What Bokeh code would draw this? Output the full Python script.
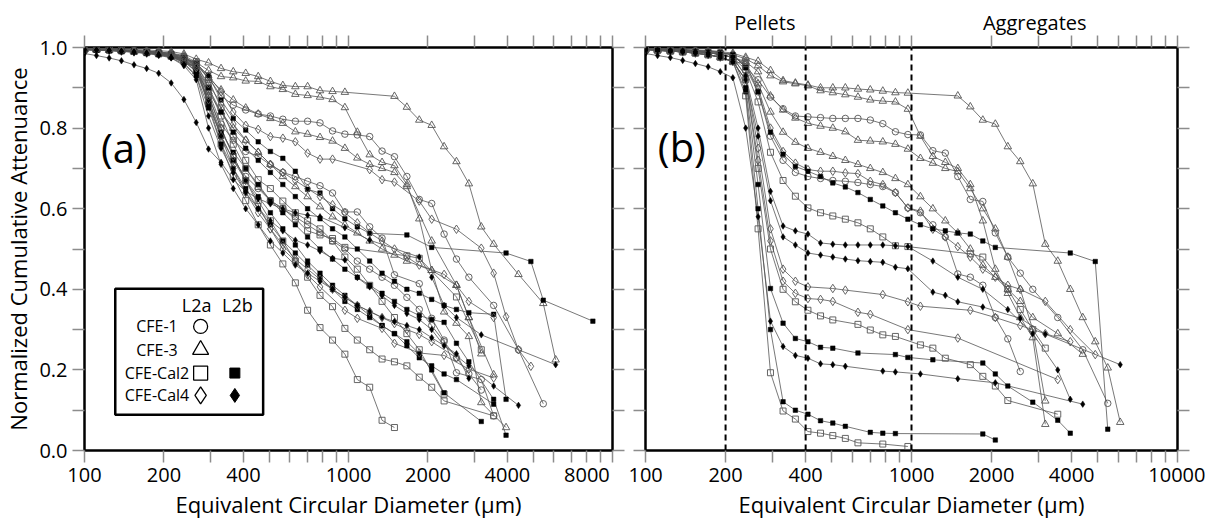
from bokeh.plotting import figure
from bokeh.layouts import row
from bokeh.models import FixedTicker, CustomJSTickFormatter, LogAxis, LinearAxis, Range1d, Label
from bokeh.embed import file_html
from bokeh.resources import INLINE
from bokeh.core.properties import value

FONT = "Open Sans"

# size-bin centres (um) shared by all curves
GRID = [100, 111, 124, 138, 154, 172, 191, 213, 238, 265, 295, 329, 366, 408, 455,
        506, 564, 629, 700, 780, 870, 969, 1080, 1203, 1340, 1493, 1664, 1854, 2066,
        2302, 2564, 2857, 3184, 3547, 3952, 4404, 4907, 5467, 6091, 6787, 7562, 8426]


def r(a, b):
    return list(range(a, b + 1))


# ---------------- panel (a) ----------------
A_T1_K = r(0, 21) + r(25, 33) + [35, 37, 38]
A_T1_V = [.998, .998, .997, .996, .995, .994, .992, .99, .984, .971, .962, .948, .94, .936, .928, .916, .906, .903, .903, .893, .891, .889, .879, .852, .82, .807, .754, .717, .662, .555, .512, .437, .365, .225]
A_T2_K = r(0, 32) + [34]
A_T2_V = [.997, .996, .995, .994, .993, .991, .989, .986, .98, .963, .943, .928, .925, .917, .916, .903, .896, .884, .881, .877, .871, .851, .79, .734, .715, .707, .66, .575, .447, .344, .316, .283, .119, .057]
A_T3_K = r(0, 26) + [28, 30, 31, 33]
A_T3_V = [.996, .995, .994, .993, .991, .989, .987, .983, .976, .955, .925, .895, .87, .85, .835, .824, .812, .791, .785, .777, .768, .75, .726, .71, .70, .69, .655, .52, .41, .33, .188]
A_T4_K = r(0, 26) + [28, 30, 31, 32]
A_T4_V = [.995, .994, .993, .992, .99, .988, .985, .98, .97, .94, .89, .84, .80, .77, .74, .71, .68, .655, .63, .605, .58, .56, .54, .52, .50, .485, .47, .447, .41, .33, .24]
A_C1_K = r(0, 30) + [31, 33, 35, 37]
A_C1_V = [.997, .996, .995, .994, .993, .991, .989, .985, .978, .958, .925, .88, .857, .845, .835, .83, .822, .817, .817, .813, .793, .785, .783, .779, .743, .729, .68, .623, .613, .537, .475, .43, .36, .25, .116]
A_C2_K = r(0, 32)
A_C2_V = [.995, .994, .993, .991, .99, .988, .985, .98, .966, .95, .86, .78, .72, .68, .65, .62, .60, .58, .56, .54, .52, .50, .47, .45, .43, .41, .38, .35, .31, .27, .23, .19, .15]
A_C3_K = r(0, 25) + [27, 28, 29, 30, 32, 33]
A_C3_V = [.996, .995, .994, .993, .991, .989, .986, .982, .972, .955, .89, .81, .77, .742, .73, .709, .69, .68, .668, .657, .639, .592, .592, .555, .527, .436, .414, .328, .274, .193, .176, .086]
A_S1_K = r(0, 25)
A_S1_V = [.996, .995, .994, .992, .99, .987, .984, .978, .965, .95, .86, .76, .68, .62, .56, .51, .463, .416, .348, .305, .274, .239, .176, .157, .075, .057]
A_S2_K = r(0, 29) + [33]
A_S2_V = [.996, .995, .994, .992, .99, .988, .985, .98, .968, .955, .88, .80, .73, .67, .62, .57, .52, .47, .43, .385, .357, .303, .274, .25, .227, .22, .21, .182, .157, .123, .086]
A_S3_K = r(0, 21) + [26, 27, 30, 32]
A_S3_V = [.997, .996, .995, .993, .991, .989, .986, .982, .972, .96, .90, .83, .76, .70, .655, .62, .60, .575, .545, .535, .526, .504, .483, .477, .381, .25]
A_S4_K = r(0, 27) + [29]
A_S4_V = [.996, .995, .994, .993, .991, .989, .986, .981, .97, .965, .92, .85, .78, .72, .672, .65, .619, .59, .57, .55, .52, .48, .45, .41, .37, .33, .29, .25, .14]
A_F1_K = r(0, 23) + [26, 28, 34, 36, 37, 41]
A_F1_V = [.997, .996, .995, .994, .992, .99, .988, .984, .975, .96, .93, .87, .824, .795, .766, .742, .725, .693, .648, .639, .60, .575, .555, .539, .535, .504, .49, .469, .373, .321]
A_F2_K = r(0, 31) + [33, 34]
A_F2_V = [.996, .995, .994, .993, .991, .989, .986, .981, .97, .95, .90, .84, .79, .75, .72, .69, .66, .63, .60, .575, .55, .53, .50, .47, .44, .42, .40, .39, .375, .36, .35, .342, .338, .127]
A_F3_K = r(0, 31) + [33, 34]
A_F3_V = [.995, .994, .993, .992, .99, .987, .984, .978, .965, .94, .87, .79, .74, .70, .66, .62, .59, .56, .53, .50, .475, .45, .43, .41, .39, .37, .35, .335, .325, .318, .266, .22, .127, .038]
A_F4_K = r(0, 29) + [32]
A_F4_V = [.995, .994, .993, .991, .989, .986, .983, .977, .962, .93, .85, .76, .70, .65, .60, .56, .52, .49, .46, .43, .40, .37, .35, .33, .31, .29, .27, .24, .20, .143, .072]
A_F5_K = r(0, 30) + [33]
A_F5_V = [.996, .995, .994, .992, .99, .987, .984, .979, .967, .94, .86, .78, .72, .67, .63, .59, .55, .51, .47, .44, .41, .385, .36, .335, .31, .29, .26, .23, .21, .19, .176, .115]
A_O1_K = r(0, 20) + [23, 24, 25, 27, 28, 30, 32, 33, 34, 35, 36]
A_O1_V = [.997, .996, .995, .994, .992, .99, .988, .985, .976, .96, .93, .89, .84, .807, .797, .779, .775, .766, .738, .723, .723, .697, .672, .666, .619, .574, .549, .502, .44, .332, .25, .209]
A_O2_K = r(0, 19) + [21, 22, 24, 25, 27, 29, 31, 33]
A_O2_V = [.996, .995, .994, .992, .99, .988, .985, .98, .968, .95, .88, .80, .73, .67, .61, .55, .50, .47, .436, .406, .348, .328, .303, .266, .242, .236, .202, .18]
A_O3_K = r(0, 27) + [29, 30, 31, 33]
A_O3_V = [.997, .996, .995, .993, .991, .989, .986, .982, .973, .955, .91, .86, .81, .77, .74, .71, .69, .67, .65, .63, .61, .59, .565, .54, .52, .50, .48, .46, .437, .41, .37, .33]
A_O4_K = r(0, 28) + [30]
A_O4_V = [.995, .994, .993, .991, .989, .986, .983, .977, .963, .95, .87, .78, .70, .64, .59, .55, .51, .475, .45, .425, .40, .38, .36, .345, .33, .315, .30, .288, .27, .23]
A_K0_K = r(0, 19) + [21, 23, 27, 28, 29, 30, 32, 38]
A_K0_V = [.985, .98, .974, .967, .957, .948, .936, .912, .871, .814, .748, .715, .672, .643, .625, .612, .60, .59, .584, .58, .553, .522, .48, .43, .36, .33, .287, .213]
A_K1_K = r(0, 29) + [31, 33, 35]
A_K1_V = [.995, .994, .993, .991, .989, .986, .982, .975, .958, .93, .83, .75, .69, .64, .60, .57, .545, .522, .51, .495, .477, .473, .429, .406, .384, .36, .34, .325, .30, .26, .21, .16, .112]
A_K2_K = r(0, 28) + [30, 31]
A_K2_V = [.994, .993, .992, .99, .988, .985, .981, .974, .955, .92, .80, .71, .65, .60, .56, .52, .49, .46, .44, .42, .40, .38, .36, .345, .33, .32, .31, .30, .28, .24, .179]

# ---------------- panel (b) ----------------
B_T1_K = r(0, 21) + r(25, 38)
B_T1_V = [.998, .997, .996, .995, .994, .993, .99, .986, .976, .966, .943, .918, .912, .907, .90, .90, .90, .897, .895, .892, .888, .887, .88, .853, .82, .81, .754, .717, .662, .512, .47, .40, .33, .27, .205, .07]
B_T2_K = r(0, 32)
B_T2_V = [.997, .996, .995, .994, .992, .99, .987, .982, .972, .955, .93, .915, .91, .905, .893, .888, .883, .877, .87, .867, .865, .847, .78, .73, .715, .70, .66, .57, .45, .39, .33, .28, .065]
B_T3_K = r(0, 32)
B_T3_V = [.996, .995, .993, .992, .99, .987, .983, .975, .965, .94, .88, .845, .825, .812, .805, .80, .791, .77, .768, .766, .76, .748, .725, .713, .70, .692, .65, .60, .55, .48, .40, .30, .123]
B_T4_K = r(0, 31) + [33, 35]
B_T4_V = [.995, .993, .991, .989, .986, .982, .976, .965, .96, .91, .84, .79, .765, .75, .74, .73, .72, .71, .70, .69, .675, .66, .63, .60, .57, .54, .50, .46, .43, .40, .37, .33, .29, .239]
B_C1_K = r(0, 31) + [33, 35, 37]
B_C1_V = [.997, .996, .995, .994, .993, .991, .989, .982, .951, .92, .877, .848, .83, .828, .826, .824, .824, .824, .82, .811, .791, .784, .783, .744, .738, .68, .623, .618, .54, .48, .44, .40, .33, .25, .117]
B_C2_K = r(0, 30)
B_C2_V = [.996, .995, .993, .992, .99, .987, .983, .975, .96, .89, .78, .72, .69, .68, .675, .67, .668, .665, .66, .655, .64, .602, .59, .56, .53, .438, .43, .41, .33, .277, .196]
B_O1_K = r(0, 30) + [32, 34, 36]
B_O1_V = [.997, .996, .995, .994, .992, .99, .987, .982, .955, .90, .80, .742, .713, .697, .693, .693, .689, .687, .668, .66, .64, .602, .594, .549, .53, .506, .48, .45, .43, .41, .40, .37, .30, .238]
B_OA_K = r(0, 13) + [15, 16, 19, 21, 22, 26, 28, 30, 32, 34]
B_OA_V = [.996, .995, .993, .992, .99, .987, .983, .975, .93, .75, .55, .45, .42, .406, .402, .398, .387, .369, .358, .348, .33, .31, .29, .27]
B_OB_K = r(0, 15) + [17, 18, 21, 25, 33]
B_OB_V = [.995, .993, .991, .989, .986, .982, .976, .965, .92, .72, .52, .42, .39, .377, .375, .37, .343, .338, .30, .279, .176]
B_F1_K = r(0, 28) + [34, 36, 37]
B_F1_V = [.997, .996, .995, .994, .992, .99, .987, .982, .95, .89, .79, .735, .705, .693, .68, .664, .654, .64, .623, .607, .59, .574, .56, .55, .545, .54, .537, .52, .504, .49, .469, .053]
B_FA_K = r(0, 15) + [17, 20, 21, 23, 27, 28, 29, 31, 33, 34]
B_FA_V = [.996, .995, .993, .992, .99, .987, .983, .975, .90, .66, .402, .316, .278, .27, .256, .254, .242, .238, .231, .225, .217, .19, .16, .12, .075, .043]
B_FB_K = r(0, 16) + [18, 19, 20, 27, 28]
B_FB_V = [.995, .993, .991, .989, .986, .982, .976, .965, .89, .60, .30, .121, .10, .09, .074, .068, .06, .045, .043, .042, .041, .026]
B_S1_K = r(0, 21) + [26, 27, 29, 30, 31, 32]
B_S1_V = [.996, .995, .993, .992, .99, .987, .983, .975, .945, .865, .74, .67, .631, .602, .59, .582, .574, .565, .55, .53, .508, .506, .488, .48, .40, .35, .30, .254]
B_SA_K = r(0, 15) + [17, 18, 19, 20, 22, 23, 24, 26, 27, 28, 29, 33]
B_SA_V = [.995, .993, .991, .989, .986, .982, .976, .965, .92, .70, .50, .40, .369, .348, .334, .324, .313, .299, .287, .283, .262, .254, .229, .213, .184, .16, .124, .09]
B_SB_K = r(0, 17) + [19, 21]
B_SB_V = [.995, .993, .991, .989, .986, .982, .976, .965, .88, .55, .193, .098, .078, .047, .043, .037, .03, .019, .016, .01]
B_K1_K = r(0, 21) + [23, 25, 27, 29, 31, 33, 34]
B_K1_V = [.996, .995, .993, .992, .99, .987, .983, .975, .93, .80, .643, .557, .545, .537, .515, .512, .51, .51, .51, .51, .508, .506, .47, .43, .40, .35, .29, .20, .127]
B_K2_K = r(0, 21) + [23, 24, 25, 27, 30, 32, 38]
B_K2_V = [.995, .993, .991, .989, .986, .982, .976, .965, .92, .78, .62, .53, .51, .49, .485, .48, .475, .471, .469, .467, .455, .451, .393, .385, .369, .356, .328, .289, .213]
B_KA_K = r(0, 16) + [19, 20, 22, 25, 28, 35]
B_KA_V = [.985, .98, .975, .968, .96, .952, .94, .925, .80, .58, .321, .258, .236, .229, .215, .213, .209, .197, .195, .19, .178, .168, .115]

SERIES_A = [("T", A_T1_K, A_T1_V), ("T", A_T2_K, A_T2_V), ("T", A_T3_K, A_T3_V), ("T", A_T4_K, A_T4_V),
            ("C", A_C1_K, A_C1_V), ("C", A_C2_K, A_C2_V), ("C", A_C3_K, A_C3_V),
            ("S", A_S1_K, A_S1_V), ("S", A_S2_K, A_S2_V), ("S", A_S3_K, A_S3_V), ("S", A_S4_K, A_S4_V),
            ("F", A_F1_K, A_F1_V), ("F", A_F2_K, A_F2_V), ("F", A_F3_K, A_F3_V), ("F", A_F4_K, A_F4_V), ("F", A_F5_K, A_F5_V),
            ("O", A_O1_K, A_O1_V), ("O", A_O2_K, A_O2_V), ("O", A_O3_K, A_O3_V), ("O", A_O4_K, A_O4_V),
            ("K", A_K0_K, A_K0_V), ("K", A_K1_K, A_K1_V), ("K", A_K2_K, A_K2_V)]
SERIES_B = [("T", B_T1_K, B_T1_V), ("T", B_T2_K, B_T2_V), ("T", B_T3_K, B_T3_V), ("T", B_T4_K, B_T4_V),
            ("C", B_C1_K, B_C1_V), ("C", B_C2_K, B_C2_V),
            ("O", B_O1_K, B_O1_V), ("O", B_OA_K, B_OA_V), ("O", B_OB_K, B_OB_V),
            ("F", B_F1_K, B_F1_V), ("F", B_FA_K, B_FA_V), ("F", B_FB_K, B_FB_V),
            ("S", B_S1_K, B_S1_V), ("S", B_SA_K, B_SA_V), ("S", B_SB_K, B_SB_V),
            ("K", B_K1_K, B_K1_V), ("K", B_K2_K, B_K2_V), ("K", B_KA_K, B_KA_V)]

X_TICKS = [100, 200, 300, 400, 500, 600, 700, 800, 900, 1000, 2000, 3000, 4000, 5000, 6000, 7000, 8000, 9000, 10000]
Y_TICKS = [0.0, 0.1, 0.2, 0.3, 0.4, 0.5, 0.6, 0.7, 0.8, 0.9, 1.0]
A_X_LABELS = [100, 200, 400, 1000, 2000, 4000, 8000]
B_X_LABELS = [100, 200, 400, 1000, 2000, 4000, 10000]
SIZE_BOUNDS = [200, 400, 1000]
CLASS_NAMES = ["Pellets", "Aggregates"]
CLASS_X = [281, 2906]

LEGEND_NAMES = ["CFE-1", "CFE-3", "CFE-Cal2", "CFE-Cal4"]
LEGEND_L2A = ["circle", "triangle", "square", "diamond"]
LEGEND_L2B = [None, None, "square", "diamond"]

STYLE = {
    "T": ("triangle", 7.5, False),
    "C": ("circle", 6.5, False),
    "S": ("square", 6.0, False),
    "O": ("diamond", 8.5, False),
    "F": ("square", 4.5, True),
    "K": ("diamond", 6.5, True),
}

LINE_COL = "#555555"
MARK_COL = "#555555"
TICK_COL = "#8c8c8c"


def style_axis(ax, ticks, formatter_code, args=None, hidden=False):
    ax.ticker = FixedTicker(ticks=ticks, minor_ticks=[])
    ax.major_tick_out = 12
    ax.major_tick_in = 0
    ax.minor_tick_out = 0
    ax.minor_tick_in = 0
    ax.axis_line_color = None
    ax.major_tick_line_color = TICK_COL
    ax.major_tick_line_width = 1.5
    if hidden:
        ax.formatter = CustomJSTickFormatter(code="return '';")
        ax.major_label_text_font_size = "0px"
        ax.major_label_standoff = 0
    else:
        ax.formatter = CustomJSTickFormatter(args=args or {}, code=formatter_code)
        ax.major_label_text_font = FONT
        ax.major_label_text_font_size = "20px"
        ax.major_label_text_color = "black"
        ax.major_label_standoff = 5
    ax.axis_label_text_font = FONT
    ax.axis_label_text_font_style = "normal"
    ax.axis_label_text_font_size = "22px"
    ax.axis_label_text_color = "black"


XFMT = "const t = Math.round(tick); return labels.includes(t) ? String(t) : '';"
YFMT = "const v = Math.round(tick * 10); return (v % 2 == 0) ? (v / 10).toFixed(1) : '';"
CLSFMT = "const i = xs.indexOf(Math.round(tick)); return i >= 0 ? names[i] : '';"


def panel(series, width, left, right, xlabels, ylabel):
    p = figure(width=width, height=521, x_axis_type="log",
               x_range=Range1d(100, 10000), y_range=Range1d(0, 1),
               output_backend="svg", toolbar_location=None,
               min_border_left=left, min_border_right=right,
               min_border_top=47, min_border_bottom=68)
    p.xgrid.visible = False
    p.ygrid.visible = False
    p.outline_line_color = "black"
    p.outline_line_width = 2.5
    p.outline_line_alpha = 1.0

    xb = p.xaxis[0]
    style_axis(xb, X_TICKS, XFMT, args=dict(labels=xlabels))
    xb.axis_label = "Equivalent Circular Diameter (\u00b5m)"
    xb.axis_label_standoff = 4
    yl = p.yaxis[0]
    if ylabel:
        style_axis(yl, Y_TICKS, YFMT)
        yl.axis_label = "Normalized Cumulative Attenuance"
        yl.axis_label_standoff = 3
    else:
        style_axis(yl, Y_TICKS, "", hidden=True)
    top = LogAxis()
    style_axis(top, X_TICKS, "", hidden=True)
    p.add_layout(top, "above")
    rt = LinearAxis()
    style_axis(rt, Y_TICKS, "", hidden=True)
    p.add_layout(rt, "right")

    curves = []
    for kind, ks, vs in series:
        xs = [GRID[k] for k, _ in zip(ks, vs)]
        ys = [v for _, v in zip(ks, vs)]
        curves.append((kind, xs, ys))
        p.line(xs, ys, line_color=LINE_COL, line_width=0.8)
    for kind, xs, ys in curves:
        mk, sz, filled = STYLE[kind]
        if filled:
            p.scatter(xs, ys, marker=mk, size=sz, fill_color="black", line_color="black", line_width=0.5)
        else:
            p.scatter(xs, ys, marker=mk, size=sz, fill_color=None, line_color=MARK_COL, line_width=0.9)
    return p


pa = panel(SERIES_A, 628, 80, 16, A_X_LABELS, True)
pb = panel(SERIES_B, 577, 17, 28, B_X_LABELS, False)

# size-class names above panel (b), as an extra tick-less axis
cls_ax = LogAxis(ticker=FixedTicker(ticks=CLASS_X, minor_ticks=[]),
                 formatter=CustomJSTickFormatter(args=dict(xs=CLASS_X, names=CLASS_NAMES), code=CLSFMT))
cls_ax.major_tick_out = 0
cls_ax.major_tick_in = 0
cls_ax.minor_tick_out = 0
cls_ax.minor_tick_in = 0
cls_ax.major_tick_line_color = None
cls_ax.axis_line_color = None
cls_ax.major_label_text_font = FONT
cls_ax.major_label_text_font_size = "20px"
cls_ax.major_label_text_color = "black"
cls_ax.major_label_standoff = 0
pb.add_layout(cls_ax, "above")

# panel tags
pa.add_layout(Label(x=141, y=0.752, text="(a)", text_font=FONT, text_font_size="40px",
                    text_align="center", text_baseline="middle", text_color="black"))
pb.add_layout(Label(x=137, y=0.755, text="(b)", text_font=FONT, text_font_size="40px",
                    text_align="center", text_baseline="middle", text_color="black"))

# size class boundaries in panel (b)
pb.segment(x0=SIZE_BOUNDS, y0=[0] * len(SIZE_BOUNDS), x1=SIZE_BOUNDS, y1=[1] * len(SIZE_BOUNDS),
           line_color="black", line_width=2, line_dash="6 4")


# legend box inside panel (a), laid out in screen pixels of that panel
def lx(px):
    return 100 * 10 ** ((px - 80) / 266.0)


def ly(py):
    return (453.0 - py) / 406.0


pa.quad(left=[lx(111)], right=[lx(260)], bottom=[ly(417)], top=[ly(290)],
        fill_color="white", line_color="black", line_width=2.5)
pa.text(x=[lx(193), lx(234)], y=[ly(306)] * 2, text=["L2a", "L2b"],
        text_font=value(FONT), text_font_size=value("18px"), text_align="center",
        text_baseline="middle", text_color="black")
row_y = [328, 351.5, 375, 397.5]
pa.text(x=[lx(153)] * 4, y=[ly(v) for v in row_y], text=LEGEND_NAMES,
        text_font=value(FONT), text_font_size=value("16px"), text_align="center",
        text_baseline="middle", text_color="black")
open_sizes = {"circle": 14, "triangle": 16, "square": 14, "diamond": 17}
fill_sizes = {"square": 10, "diamond": 14}
for yy, m_a, m_b in zip(row_y, LEGEND_L2A, LEGEND_L2B):
    pa.scatter([lx(197)], [ly(yy)], marker=m_a, size=open_sizes[m_a], fill_color=None,
               line_color="black", line_width=1.3)
    if m_b:
        pa.scatter([lx(231.5)], [ly(yy)], marker=m_b, size=fill_sizes[m_b], fill_color="black",
                   line_color="black")

layout = row(pa, pb)
open("out.html", "w").write(file_html(layout, INLINE))
